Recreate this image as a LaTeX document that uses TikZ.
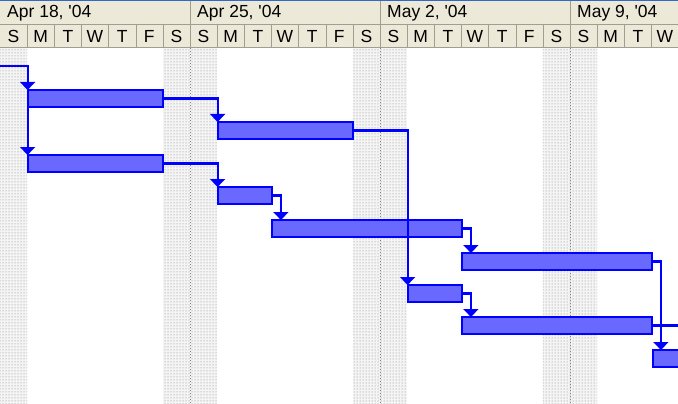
\documentclass[tikz,border=0pt]{standalone}
\usepackage{fontspec}
\setmainfont{Liberation Sans}[Ligatures=TeXOff]
\usepackage{xcolor}
\usepackage{tikz}
\usetikzlibrary{calc,patterns,arrows.meta}

\definecolor{headbg}{RGB}{236,233,216}
\definecolor{headline}{RGB}{160,158,145}
\definecolor{topblue}{RGB}{49,106,197}
\definecolor{barfill}{RGB}{105,105,255}

\tikzset{
    bar/.style={draw=blue, line width=1.8pt, fill=barfill, inner sep=0pt, outer sep=0pt,
        minimum height=17pt, anchor=north west},
    link/.style={draw=blue, line width=2.1pt, -{Triangle[width=15pt,length=8pt]}},
    freelink/.style={draw=blue, line width=2.1pt},
    offday/.style={pattern=dots, pattern color=gray!100},
    dayletter/.style={font=\fontsize{17.5}{19}\selectfont, inner sep=0pt},
    weeklabel/.style={font=\fontsize{17.5}{19}\selectfont, inner sep=0pt, anchor=west}
}

\begin{document}
\begin{tikzpicture}[x=1pt, y=-1pt]
    \clip (0,0) rectangle (678,404);
    \fill[white] (0,0) rectangle (678,404);
    % non-working days
    \def\d{27.142857}
    \fill[gray!9] (0,48) rectangle (\d,404);
    \fill[gray!9] (6*\d,48) rectangle (8*\d,404);
    \fill[gray!9] (13*\d,48) rectangle (15*\d,404);
    \fill[gray!9] (20*\d,48) rectangle (22*\d,404);
    \fill[offday] (0,48) rectangle (\d,404);
    \fill[offday] (6*\d,48) rectangle (8*\d,404);
    \fill[offday] (13*\d,48) rectangle (15*\d,404);
    \fill[offday] (20*\d,48) rectangle (22*\d,404);
    \draw[gray, line width=1pt, dash pattern=on 1pt off 2pt] (190,48) -- (190,404);
    \draw[gray, line width=1pt, dash pattern=on 1pt off 2pt] (380,48) -- (380,404);
    \draw[gray, line width=1pt, dash pattern=on 1pt off 2pt] (570,48) -- (570,404);

    % timescale
    \fill[headbg] (0,1) rectangle (678,47);
    \draw[topblue, line width=1.5pt] (0,0.5) -- (678,0.5);
    \draw[headline] (0,24) -- (678,24);
    \draw[headline] (0,47) -- (678,47);
    \draw[headline] (190,1) -- (190,24);
    \draw[headline] (380,1) -- (380,24);
    \draw[headline] (570,1) -- (570,24);
    \node[weeklabel] (w1) at (7,13) {Apr 18, '04};
    \node[weeklabel] (w2) at (197,13) {Apr 25, '04};
    \node[weeklabel] (w3) at (387,13) {May 2, '04};
    \node[weeklabel] (w4) at (577,13) {May 9, '04};
    \foreach \i/\l in {0/S,1/M,2/T,3/W,4/T,5/F,6/S,7/S,8/M,9/T,10/W,11/T,12/F,13/S,
        14/S,15/M,16/T,17/W,18/T,19/F,20/S,21/S,22/M,23/T,24/W} {
        \draw[headline] ({(\i+1)*\d},24) -- ({(\i+1)*\d},47);
        \node[dayletter] (day\i) at ({(\i+0.5)*\d},36) {\l};
    }

    % tasks
    \node[bar, minimum width=135.7pt] (b1) at (27.6,90) {};
    \node[bar, minimum width=135.7pt] (b2) at (27.6,155) {};
    \node[bar, minimum width=135.7pt] (b3) at (217.6,122) {};
    \node[bar, minimum width=54.3pt] (b4) at (217.6,187) {};
    \node[bar, minimum width=190pt] (b5) at (271.9,220) {};
    \node[bar, minimum width=190pt] (b6) at (461.9,253) {};
    \node[bar, minimum width=54.3pt] (b7) at (407.6,285) {};
    \node[bar, minimum width=190pt] (b8) at (461.9,317) {};
    \node[bar, minimum width=60pt] (b9) at (652.9,350) {};

    % links
    \coordinate (in) at (0,66);
    \coordinate (out) at (690,0);
    \draw[link] (in) -| (b1.north west);
    \draw[link] (in) -| (b2.north west);
    \draw[link] (b1.east) -| (b3.north west);
    \draw[link] (b2.east) -| (b4.north west);
    \draw[link] (b3.east) -| (b7.north west);
    \draw[link] (b4.east) -| ([xshift=9pt]b5.north west);
    \draw[link] (b5.east) -| ([xshift=9pt]b6.north west);
    \draw[link] (b7.east) -| ([xshift=9pt]b8.north west);
    \draw[link] (b6.east) -| ([xshift=8pt]b9.north west);
    \draw[freelink] (b8.east) -- (b8.east -| out);
\end{tikzpicture}
\end{document}
